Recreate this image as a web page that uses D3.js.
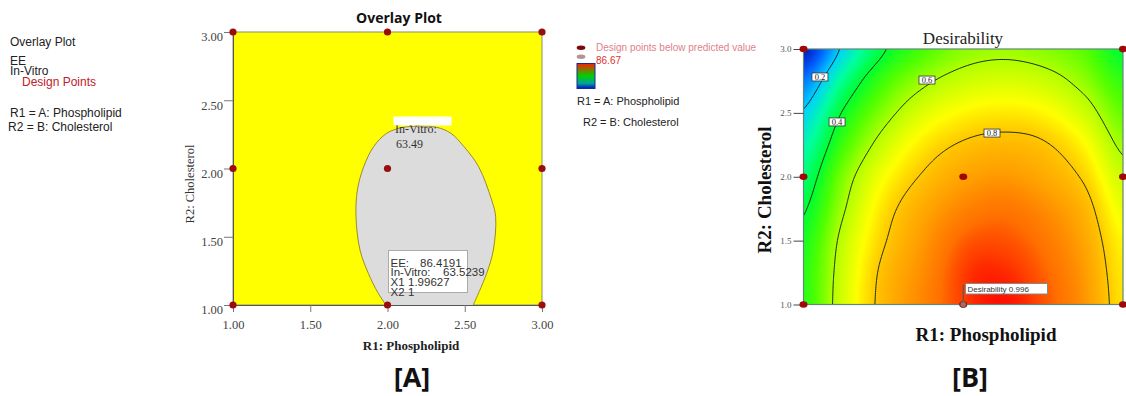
<!DOCTYPE html>
<html><head><meta charset="utf-8">
<script src="https://cdn.jsdelivr.net/npm/d3@7"></script>
<style>body{margin:0;background:#fff;} svg{display:block;}</style>
</head><body><svg id="c" width="1126" height="396"></svg>
<script>
// ---------------- data ----------------
const xTicks = [1.0, 1.5, 2.0, 2.5, 3.0];
const yTicks = [1.0, 1.5, 2.0, 2.5, 3.0];
const designX = [1, 1, 1, 2, 2, 2, 3, 3, 3];
const designY = [1, 2, 3, 1, 2, 3, 1, 2, 3];

// In-Vitro 63.49 boundary (grey region)
const boundaryX = [1.990, 1.940, 1.876, 1.822, 1.796, 1.805, 1.846, 1.910, 1.995, 2.095, 2.210, 2.318, 2.410, 2.495, 2.590, 2.674, 2.700, 2.685, 2.642, 2.555];
const boundaryY = [1.000, 1.086, 1.232, 1.403, 1.647, 1.842, 2.013, 2.160, 2.258, 2.300, 2.310, 2.302, 2.258, 2.160, 2.013, 1.769, 1.647, 1.403, 1.232, 1.000];
const boundaryLabel = ["In-Vitro:", "63.49"];

const tooltipLabels = ["EE:", "In-Vitro:", "X1", "X2"];
const tooltipValues = ["86.4191", "63.5239", "1.99627", "1"];

// Desirability surface estimated on a grid (rows = gridY, cols = gridX)
const gridX = [1.0, 1.25, 1.5, 1.75, 2.0, 2.25, 2.5, 2.75, 3.0];
const gridY = [1.0, 1.25, 1.5, 1.75, 2.0, 2.25, 2.5, 2.75, 3.0];
const desirability = [
  [0.45, 0.66, 0.83, 0.92, 0.98, 1.00, 0.97, 0.90, 0.76],
  [0.45, 0.65, 0.82, 0.91, 0.98, 0.99, 0.96, 0.89, 0.75],
  [0.43, 0.63, 0.79, 0.89, 0.96, 0.97, 0.94, 0.87, 0.73],
  [0.39, 0.59, 0.76, 0.86, 0.92, 0.94, 0.91, 0.84, 0.69],
  [0.34, 0.55, 0.71, 0.81, 0.87, 0.89, 0.86, 0.79, 0.64],
  [0.28, 0.48, 0.64, 0.75, 0.81, 0.83, 0.81, 0.73, 0.58],
  [0.21, 0.41, 0.56, 0.67, 0.73, 0.75, 0.73, 0.65, 0.52],
  [0.12, 0.32, 0.48, 0.58, 0.64, 0.66, 0.64, 0.57, 0.46],
  [0.01, 0.22, 0.39, 0.49, 0.56, 0.58, 0.56, 0.51, 0.395]
];
const contourLevels = [0.2, 0.4, 0.6, 0.8];
const contourLabelX = [1.103, 1.21, 1.773, 2.18];
const contourLabelY = [2.781, 2.429, 2.757, 2.342];
const optimumX = [2.0], optimumY = [1.0], optimumD = [0.996];

const colorStops = [0.0, 0.1, 0.2, 0.3, 0.4, 0.5, 0.6, 0.72, 0.8, 0.88, 0.95, 0.98, 1.0];
const colorRange = ["#0010b8", "#0064ff", "#00d0ff", "#00ffa0", "#00ff30", "#50ff00", "#b0ff00", "#ffff00", "#ffc800", "#ffa000", "#ff7000", "#ff4000", "#ff1000"];

// ---------------- drawing ----------------
const svg = d3.select("#c");
const SERIF = "'Liberation Serif', 'Times New Roman', serif";
const SANS = "'Liberation Sans', Arial, sans-serif";
const CAL = "'Open Sans', Lato, sans-serif";

// ===== Panel A =====
const xA = d3.scaleLinear().domain([1, 3]).range([233, 542]);
const yA = d3.scaleLinear().domain([1, 3]).range([305, 32]);

svg.append("rect").attr("x", xA(1)).attr("y", yA(3)).attr("width", xA(3) - xA(1)).attr("height", yA(1) - yA(3))
  .attr("fill", "#ffff00").attr("stroke", "#8c8c70").attr("stroke-width", 1);

const bpts = boundaryX.map((x, i) => [xA(x), yA(boundaryY[i])]);
const bline = d3.line().curve(d3.curveCatmullRom.alpha(0.5));
svg.append("path").attr("d", bline(bpts) + "Z").attr("fill", "#dcdcdc").attr("stroke", "none");
svg.append("path").attr("d", bline(bpts)).attr("fill", "none").attr("stroke", "#9c8a2c").attr("stroke-width", 1);

// axes A
const axA = svg.append("g").attr("transform", `translate(0,${yA(1)})`)
  .call(d3.axisBottom(xA).tickValues(xTicks).tickFormat(d3.format(".2f")).tickSize(7).tickPadding(6));
const ayA = svg.append("g").attr("transform", `translate(${xA(1)},0)`)
  .call(d3.axisLeft(yA).tickValues(yTicks).tickFormat(d3.format(".2f")).tickSize(9).tickPadding(1));
[axA, ayA].forEach(g => {
  g.select(".domain").attr("stroke", "#555");
  g.selectAll(".tick line").attr("stroke", "#777");
  g.selectAll("text").attr("font-family", SERIF).attr("font-size", 12.5).attr("fill", "#444");
});
ayA.selectAll("text").attr("dy", "0.7em");
axA.selectAll("text").attr("dy", "0.9em");

// label on boundary
svg.append("text").attr("x", 395).attr("y", 133).attr("font-family", SERIF).attr("font-size", 12).attr("fill", "#333").text(boundaryLabel[0]);
svg.append("rect").attr("x", 393.5).attr("y", 116.5).attr("width", 58).attr("height", 9).attr("fill", "#fff");
svg.append("text").attr("x", 396).attr("y", 148).attr("font-family", SERIF).attr("font-size", 12).attr("fill", "#333").text(boundaryLabel[1]);

// tooltip
svg.append("rect").attr("x", 388.5).attr("y", 250.5).attr("width", 79).attr("height", 42)
  .attr("fill", "#fff").attr("stroke", "#aaa");
const ttX = [420, 443, 408, 408];
tooltipLabels.forEach((l, i) => {
  const yy = 266.5 + i * 9.8;
  svg.append("text").attr("x", 390.5).attr("y", yy).attr("font-family", SANS).attr("font-size", 11.5).attr("fill", "#333").text(l);
  svg.append("text").attr("x", ttX[i]).attr("y", yy).attr("font-family", SANS).attr("font-size", 11.5).attr("fill", "#333").text(tooltipValues[i]);
});

// design points A
svg.append("g").selectAll("circle").data(designX).join("circle")
  .attr("cx", (d) => xA(d)).attr("cy", (d, i) => yA(designY[i])).attr("r", 3.6).attr("fill", "#9a0d0d");

// titles A
svg.append("text").attr("x", 399).attr("y", 23).attr("text-anchor", "middle").attr("font-family", CAL)
  .attr("font-weight", "bold").attr("font-size", 14).attr("fill", "#111").text("Overlay Plot");
svg.append("text").attr("x", 411).attr("y", 350).attr("text-anchor", "middle").attr("font-family", SERIF)
  .attr("font-weight", "bold").attr("font-size", 13).attr("fill", "#222").text("R1: Phospholipid");
svg.append("text").attr("transform", "translate(194,184) rotate(-90)").attr("text-anchor", "middle").attr("font-family", SERIF)
  .attr("font-size", 12.5).attr("fill", "#333").text("R2: Cholesterol");
svg.append("text").attr("x", 412).attr("y", 387).attr("text-anchor", "middle").attr("font-family", CAL)
  .attr("font-weight", "bold").attr("font-size", 27).attr("fill", "#111").text("[A]");

// left legend
const leg1 = [["Overlay Plot", 10, 46, "#222"], ["EE", 10, 65, "#222"], ["In-Vitro", 10, 75, "#222"], ["Design Points", 22, 86, "#c0202a"],
  ["R1 = A: Phospholipid", 10, 117, "#222"], ["R2 = B: Cholesterol", 8, 131, "#222"]];
leg1.forEach(d => svg.append("text").attr("x", d[1]).attr("y", d[2]).attr("font-family", SANS).attr("font-size", 12).attr("fill", d[3]).text(d[0]));

// middle legend
svg.append("ellipse").attr("cx", 581).attr("cy", 47.7).attr("rx", 4.3).attr("ry", 2.2).attr("fill", "#7a0a0a");
svg.append("ellipse").attr("cx", 581).attr("cy", 56.7).attr("rx", 4.3).attr("ry", 2.2).attr("fill", "#b39494");
svg.append("text").attr("x", 596).attr("y", 51).attr("font-family", SANS).attr("font-size", 10).attr("fill", "#e07f8c").text("Design points below predicted value");
svg.append("text").attr("x", 596).attr("y", 64).attr("font-family", SANS).attr("font-size", 10).attr("fill", "#e03030").text("86.67");
const defs = svg.append("defs");
const lg = defs.append("linearGradient").attr("id", "cb").attr("x1", 0).attr("y1", 0).attr("x2", 0).attr("y2", 1);
[["0%", "#ff2000"], ["50%", "#00d000"], ["80%", "#00a0a0"], ["100%", "#0010c0"]].forEach(s => lg.append("stop").attr("offset", s[0]).attr("stop-color", s[1]));
svg.append("rect").attr("x", 577).attr("y", 63.5).attr("width", 18).attr("height", 25).attr("fill", "url(#cb)").attr("stroke", "#1a2a90").attr("stroke-width", 1);
svg.append("text").attr("x", 577).attr("y", 105).attr("font-family", SANS).attr("font-size", 11).attr("fill", "#222").text("R1 = A: Phospholipid");
svg.append("text").attr("x", 583).attr("y", 126).attr("font-family", SANS).attr("font-size", 11).attr("fill", "#222").text("R2 = B: Cholesterol");

// ===== Panel B =====
const xB = d3.scaleLinear().domain([1, 3]).range([803.5, 1123]);
const yB = d3.scaleLinear().domain([1, 3]).range([304.5, 49]);
const color = d3.scaleLinear().domain(colorStops).range(colorRange).interpolate(d3.interpolateRgb).clamp(true);

function cr(p0, p1, p2, p3, t) {
  return 0.5 * ((2 * p1) + (-p0 + p2) * t + (2 * p0 - 5 * p1 + 4 * p2 - p3) * t * t + (-p0 + 3 * p1 - 3 * p2 + p3) * t * t * t);
}
const stepX = gridX[1] - gridX[0], stepY = gridY[1] - gridY[0];
function surf(x, y) {
  const gx = (x - gridX[0]) / stepX, gy = (y - gridY[0]) / stepY;
  const nx = gridX.length, ny = gridY.length;
  const ix = Math.min(Math.max(Math.floor(gx), 0), nx - 2), iy = Math.min(Math.max(Math.floor(gy), 0), ny - 2);
  const tx = gx - ix, ty = gy - iy;
  const g = (r, c) => desirability[Math.min(Math.max(r, 0), ny - 1)][Math.min(Math.max(c, 0), nx - 1)];
  const rows = [];
  for (let r = iy - 1; r <= iy + 2; r++) rows.push(cr(g(r, ix - 1), g(r, ix), g(r, ix + 1), g(r, ix + 2), tx));
  return cr(rows[0], rows[1], rows[2], rows[3], ty);
}

// raster
const W = 320, H = 256;
const cv = document.createElement("canvas"); cv.width = W; cv.height = H;
const ctx = cv.getContext("2d");
const img = ctx.createImageData(W, H);
for (let j = 0; j < H; j++) {
  for (let i = 0; i < W; i++) {
    const dx = xB.invert(803.5 + (i + 0.5) * (319.5 / W));
    const dy = yB.invert(49 + (j + 0.5) * (255.5 / H));
    const c = d3.rgb(color(surf(dx, dy)));
    const k = (j * W + i) * 4;
    img.data[k] = c.r; img.data[k + 1] = c.g; img.data[k + 2] = c.b; img.data[k + 3] = 255;
  }
}
ctx.putImageData(img, 0, 0);
svg.append("image").attr("x", 803.5).attr("y", 49).attr("width", 319.5).attr("height", 255.5)
  .attr("preserveAspectRatio", "none").attr("href", cv.toDataURL());

// contours
defs.append("clipPath").attr("id", "clipB").append("rect").attr("x", 803.5).attr("y", 49).attr("width", 319.5).attr("height", 255.5);
const CN = 161, CM = 129;
const sx = 2 / (CN - 1), sy = 2 / (CM - 1);
const vals = new Array(CN * CM);
for (let j = 0; j < CM; j++) for (let i = 0; i < CN; i++) vals[j * CN + i] = surf(1 + i * sx, 3 - j * sy);
const conts = d3.contours().size([CN, CM]).thresholds(contourLevels)(vals);
const proj = d3.geoTransform({ point: function (x, y) { this.stream.point(xB(1 + (x - 0.5) * sx), yB(3 - (y - 0.5) * sy)); } });
svg.append("g").attr("clip-path", "url(#clipB)").selectAll("path").data(conts).join("path")
  .attr("d", d3.geoPath(proj)).attr("fill", "none").attr("stroke", "#1a2a1a").attr("stroke-width", 1);

// contour labels
contourLevels.forEach((lv, i) => {
  const cx = xB(contourLabelX[i]), cy = yB(contourLabelY[i]);
  svg.append("rect").attr("x", cx - 8).attr("y", cy - 4).attr("width", 16).attr("height", 8).attr("fill", "#fff").attr("stroke", "#333").attr("stroke-width", 0.8);
  svg.append("text").attr("x", cx).attr("y", cy + 3).attr("text-anchor", "middle").attr("font-family", SERIF).attr("font-size", 8.5).attr("fill", "#222").text(lv.toFixed(1));
});

// frame B
svg.append("rect").attr("x", 803.5).attr("y", 49).attr("width", 319.5).attr("height", 255.5).attr("fill", "none").attr("stroke", "#5f8878").attr("stroke-width", 1.2);

// axes B
const ayB = svg.append("g").attr("transform", `translate(803.5,0)`)
  .call(d3.axisLeft(yB).tickValues(yTicks).tickFormat(d3.format(".1f")).tickSize(10).tickPadding(2));
ayB.select(".domain").remove();
ayB.selectAll(".tick line").attr("stroke", "#444");
ayB.selectAll("text").attr("font-family", SERIF).attr("font-size", 9).attr("fill", "#555");
defs.append("clipPath").attr("id", "clipX").append("rect").attr("x", 790).attr("y", 300).attr("width", 340).attr("height", 18.5);
const axB = svg.append("g").attr("transform", `translate(0,304.5)`).attr("clip-path", "url(#clipX)")
  .call(d3.axisBottom(xB).tickValues(xTicks).tickFormat(d3.format(".1f")).tickSize(8).tickPadding(4));
axB.select(".domain").remove();
axB.selectAll(".tick line").attr("stroke", "#555");
axB.selectAll("text").attr("font-family", SERIF).attr("font-size", 9).attr("fill", "#777");

// design points B
svg.append("g").selectAll("ellipse").data(designX).join("ellipse")
  .filter((d, i) => !(d === optimumX[0] && designY[i] === optimumY[0]))
  .attr("cx", (d) => xB(d)).attr("cy", (d, i) => yB(designY[i])).attr("rx", 4).attr("ry", 3.3).attr("fill", "#a00808");
// optimum flag
const ox = xB(optimumX[0]), oy = yB(optimumY[0]);
svg.append("line").attr("x1", ox).attr("x2", ox).attr("y1", oy).attr("y2", 285).attr("stroke", "#555");
svg.append("circle").attr("cx", ox).attr("cy", oy).attr("r", 3).attr("fill", "#c86050").attr("stroke", "#555");
svg.append("rect").attr("x", 965.5).attr("y", 283.5).attr("width", 82).attr("height", 10.5).attr("fill", "#fff").attr("stroke", "#888");
svg.append("text").attr("x", 967.5).attr("y", 291.8).attr("font-family", SANS).attr("font-size", 8).attr("fill", "#333").text("Desirability " + optimumD[0]);

// titles B
svg.append("text").attr("x", 963).attr("y", 44).attr("text-anchor", "middle").attr("font-family", SERIF)
  .attr("font-size", 17).attr("fill", "#222").text("Desirability");
svg.append("text").attr("x", 986).attr("y", 341).attr("text-anchor", "middle").attr("font-family", SERIF)
  .attr("font-weight", "bold").attr("font-size", 19).attr("fill", "#111").text("R1: Phospholipid");
svg.append("text").attr("transform", "translate(771,190) rotate(-90)").attr("text-anchor", "middle").attr("font-family", SERIF)
  .attr("font-weight", "bold").attr("font-size", 19).attr("fill", "#111").text("R2: Cholesterol");
svg.append("text").attr("x", 970).attr("y", 387).attr("text-anchor", "middle").attr("font-family", CAL)
  .attr("font-weight", "bold").attr("font-size", 27).attr("fill", "#111").text("[B]");
</script></body></html>
